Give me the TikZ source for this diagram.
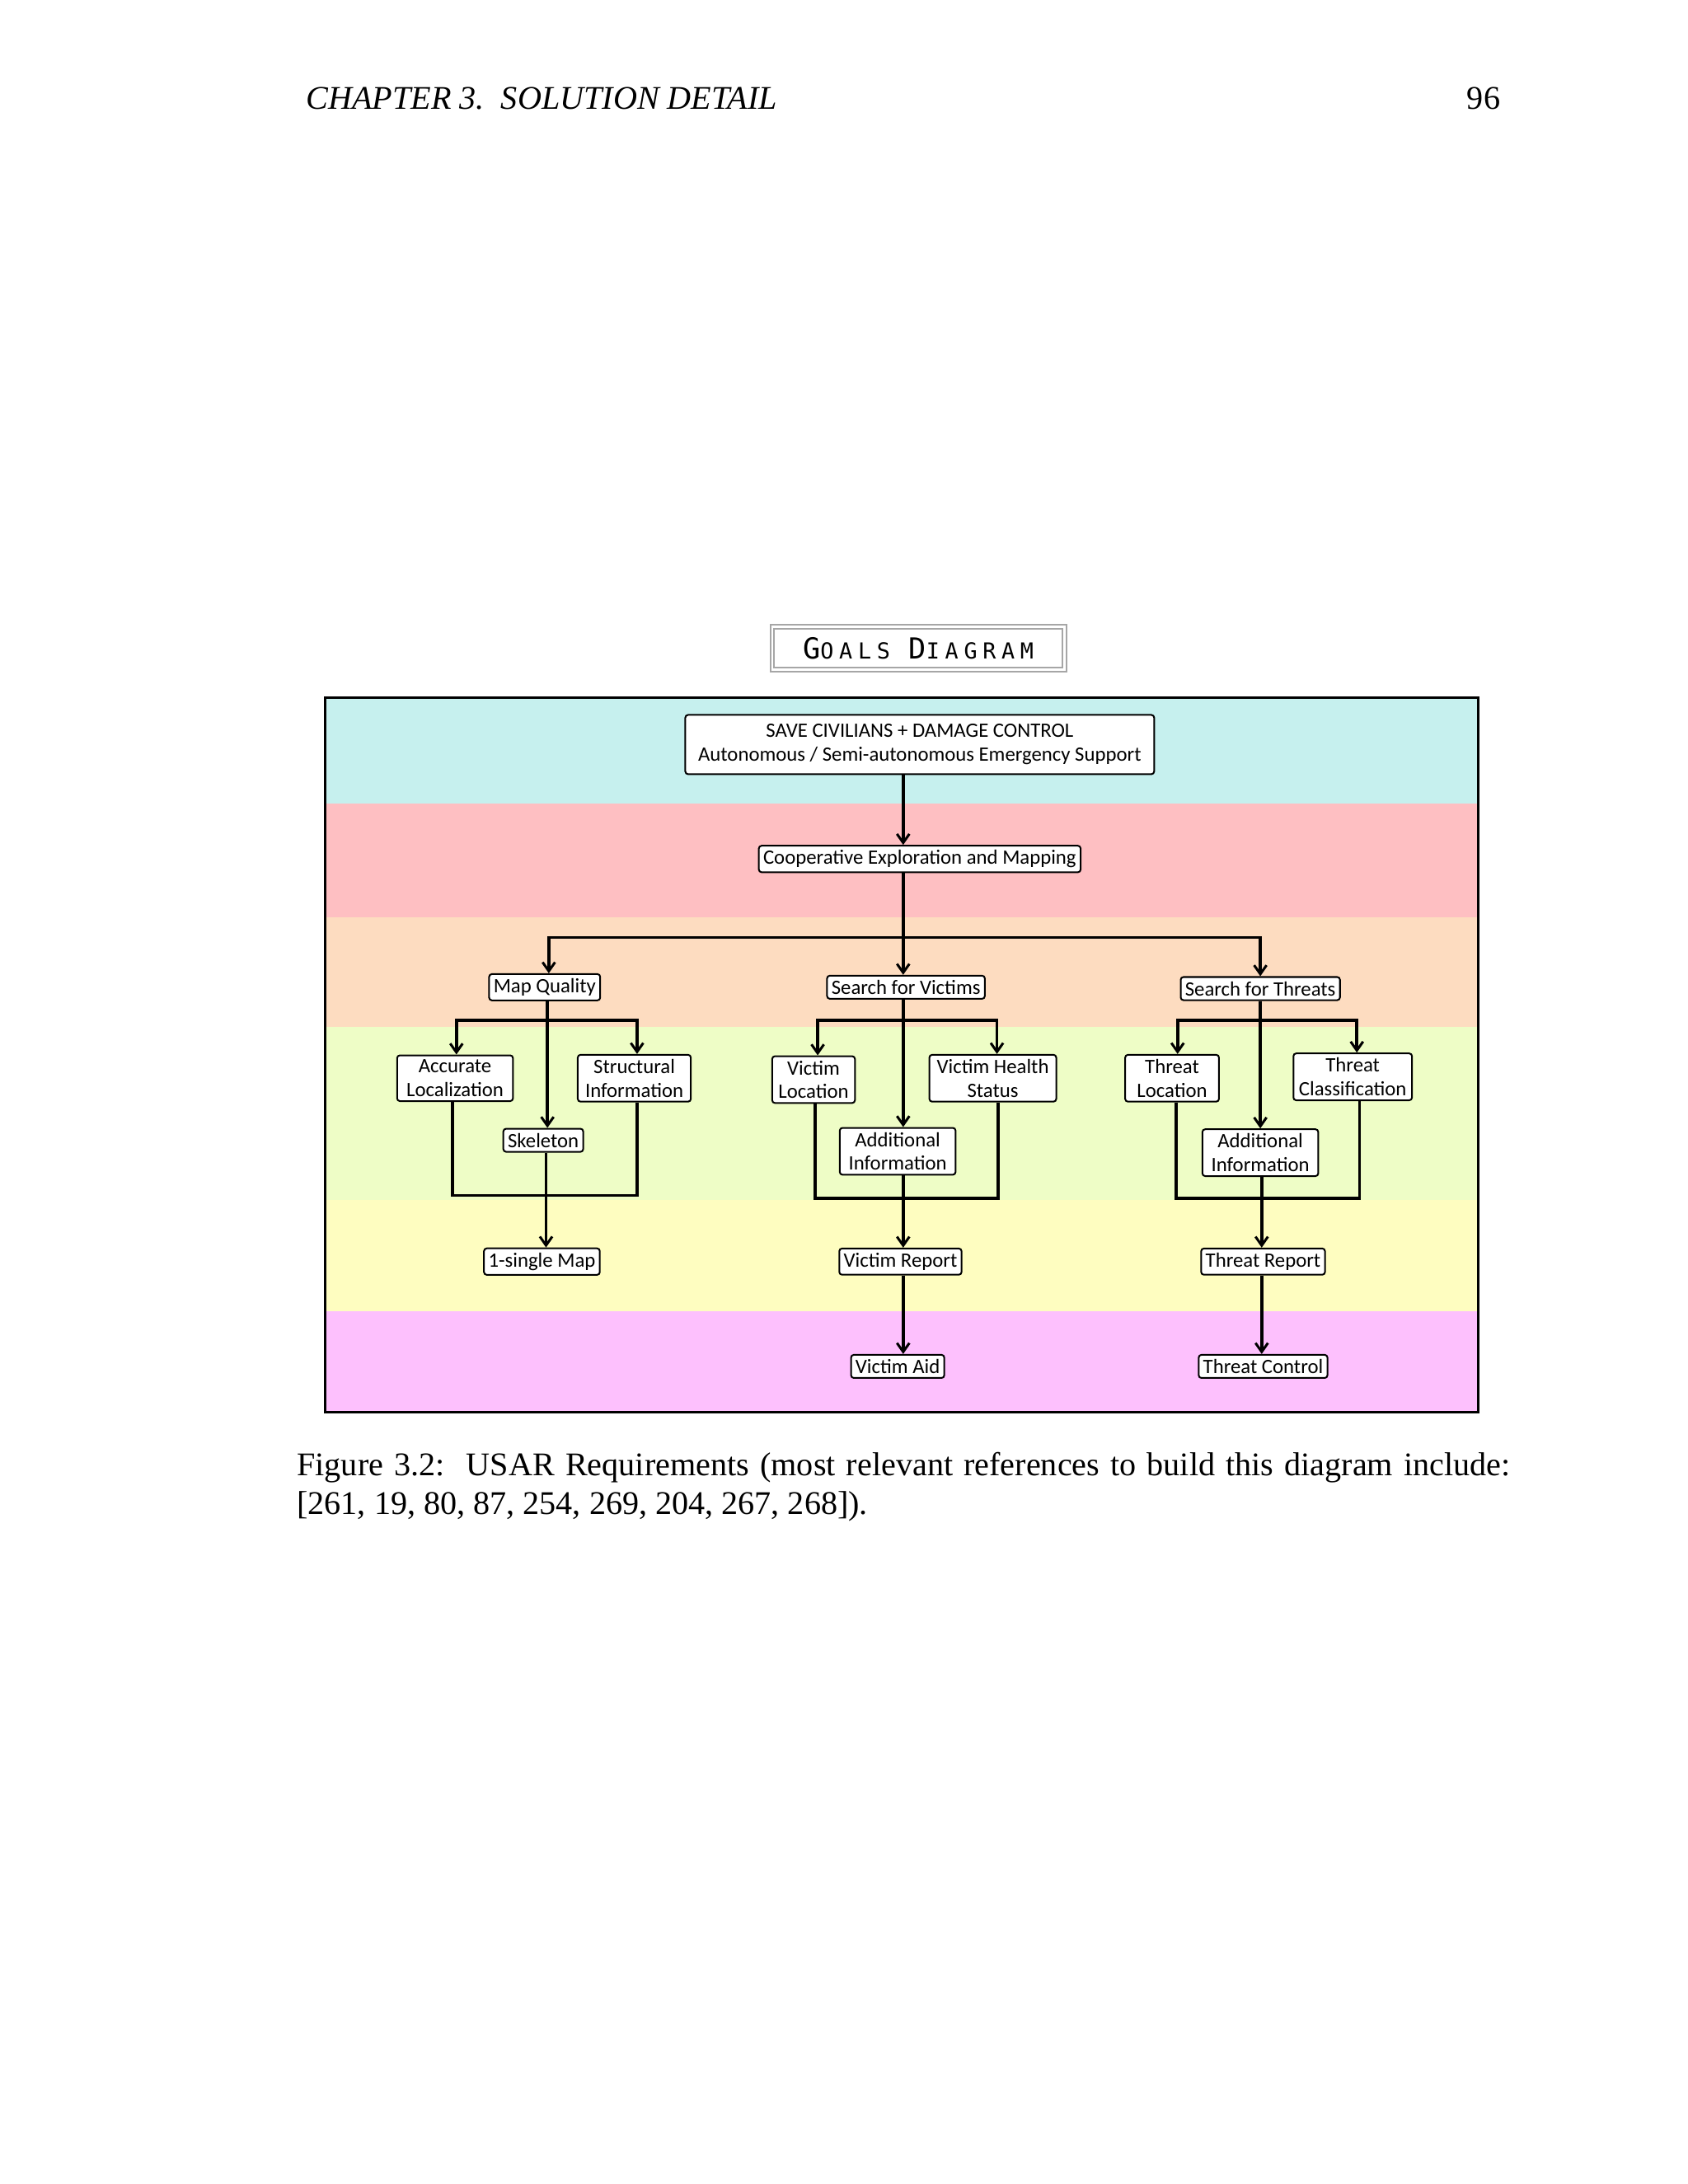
\documentclass[tikz,border=0pt]{standalone}
\usepackage{fontspec}
\setmainfont{Liberation Serif}
\newfontfamily\boxfont{Carlito}
\newfontfamily\titlefont[LetterSpace=25]{DejaVu Sans Mono}
\usetikzlibrary{arrows.meta}
\definecolor{bcyan}{HTML}{C6F0EE}
\definecolor{bred}{HTML}{FEBFC2}
\definecolor{borange}{HTML}{FDDCC0}
\definecolor{bgreen}{HTML}{EEFDC6}
\definecolor{byellow}{HTML}{FEFDC0}
\definecolor{bmag}{HTML}{FDC0FD}
\tikzset{
 gbox/.style={draw=black,line width=0.6pt,fill=white,rounded corners=1pt,inner sep=1.6pt,font=\boxfont\fontsize{7.4}{8.6}\selectfont,align=center},
 conn/.style={line width=1.1pt},
 arr/.style={conn,-{Straight Barb[length=3.2pt,width=4.5pt,line width=0.9pt]}}
}
\begin{document}
\begin{tikzpicture}[x=0.5pt,y=-0.5pt]
\useasboundingbox (0,0) rectangle (1224,1584);
% header
\node[anchor=base west,font=\itshape\fontsize{12}{14}\selectfont] (hdr) at (215,79) {CHAPTER 3.\ \ SOLUTION DETAIL};
\node[anchor=base east,font=\fontsize{12}{14}\selectfont] (pg) at (1095,79) {96};
% title
\node[draw=gray!70,double=white,double distance=0.8pt,line width=0.6pt,minimum width=106pt,minimum height=15.5pt,inner sep=0pt,font=\titlefont\fontsize{10.5}{12}\selectfont] (title) at (666,470) {G\fontsize{8}{10}\selectfont OALS \fontsize{10.5}{12}\selectfont D\fontsize{8}{10}\selectfont IAGRAM};
% bands
\fill[bcyan] (236,506) rectangle (1072,583);
\fill[bred] (236,583) rectangle (1072,665);
\fill[borange] (236,665) rectangle (1072,745);
\fill[bgreen] (236,745) rectangle (1072,870);
\fill[byellow] (236,870) rectangle (1072,951);
\fill[bmag] (236,951) rectangle (1072,1024);
\draw[line width=0.9pt] (236,506) rectangle (1072,1024);
% nodes
\node[gbox,minimum width=170pt,minimum height=21.5pt] (top) at (667,540) {SAVE CIVILIANS + DAMAGE CONTROL\\Autonomous / Semi-autonomous Emergency Support};
\node[gbox] (coop) at (667,623) {Cooperative Exploration and Mapping};
\node[gbox] (mq) at (395,716) {Map Quality};
\node[gbox] (sv) at (657,716) {Search for Victims};
\node[gbox] (st) at (914,717) {Search for Threats};
\node[gbox,minimum width=42pt] (al) at (330,782) {Accurate\\Localization};
\node[gbox,minimum width=41pt] (si) at (460,782) {Structural\\Information};
\node[gbox] (sk) at (394,827) {Skeleton};
\node[gbox,minimum width=30pt] (vl) at (590,783) {Victim\\Location};
\node[gbox,minimum width=46pt] (vh) at (720,782) {Victim Health\\Status};
\node[gbox,minimum width=42pt] (va) at (651,835) {Additional\\Information};
\node[gbox,minimum width=34pt] (tl) at (850,782) {Threat\\Location};
\node[gbox,minimum width=43pt] (tc) at (981,781) {Threat\\Classification};
\node[gbox,minimum width=42pt] (ta) at (914,836) {Additional\\Information};
\node[gbox] (sm) at (393,915) {1-single Map};
\node[gbox] (vr) at (653,915) {Victim Report};
\node[gbox] (tr) at (916,915) {Threat Report};
\node[gbox] (vaid) at (651,991) {Victim Aid};
\node[gbox] (tcon) at (916,991) {Threat Control};
% junction coordinates
\coordinate (j0) at (655,680);
\coordinate (jm) at (397,740);
\coordinate (jv) at (655,740);
\coordinate (jt) at (914,740);
% connectors
\draw[arr] (top.south -| 655,0) -- (coop.north -| 655,0);
\draw[conn] (coop.south -| 655,0) -- (j0);
\draw[arr] (j0) -- (sv.north -| j0);
\draw[arr] (j0) -| (398,700) -- (mq.north -| 398,0);
\draw[arr] (j0) -| (914,700) -- (st.north -| 914,0);
% map quality
\draw[arr] (mq.south -| 397,0) -- (sk.north -| 397,0);
\draw[arr] (jm) -| (331,760) -- (al.north -| 331,0);
\draw[arr] (jm) -| (462,760) -- (si.north -| 462,0);
\draw[conn] (al.south -| 328,0) |- (462,867) -- (si.south -| 462,0);
\draw[arr] (sk.south -| 396,0) -- (sm.north -| 396,0);
% victims
\draw[arr] (sv.south -| jv) -- (va.north -| jv);
\draw[arr] (jv) -| (593,760) -- (vl.north -| 593,0);
\draw[arr] (jv) -| (723,760) -- (vh.north -| 723,0);
\draw[conn] (vl.south -| 591,0) |- (724,869) -- (vh.south -| 724,0);
\draw[arr] (va.south -| 655,0) -- (vr.north -| 655,0);
\draw[arr] (vr.south -| 655,0) -- (vaid.north -| 655,0);
% threats
\draw[arr] (st.south -| jt) -- (ta.north -| jt);
\draw[arr] (jt) -| (854,760) -- (tl.north -| 854,0);
\draw[arr] (jt) -| (984,760) -- (tc.north -| 984,0);
\draw[conn] (tl.south -| 853,0) |- (986,869) -- (tc.south -| 986,0);
\draw[arr] (ta.south -| 915,0) -- (tr.north -| 915,0);
\draw[arr] (tr.south -| 915,0) -- (tcon.north -| 915,0);
% caption
\node[anchor=north west,text width=440pt,align=justify,inner sep=0pt,font=\fontsize{12}{14}\selectfont] (cap) at (215,1053) {Figure 3.2:\ \ USAR Requirements (most relevant references to build this diagram include: [261, 19, 80, 87, 254, 269, 204, 267, 268]).};
\end{tikzpicture}
\end{document}
